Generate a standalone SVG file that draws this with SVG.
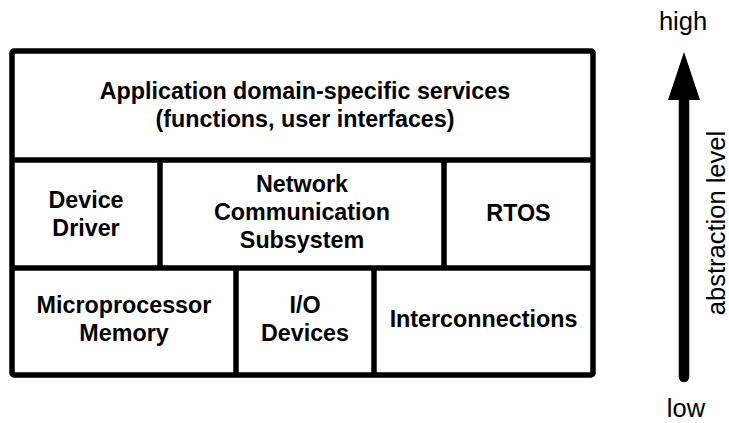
<svg xmlns="http://www.w3.org/2000/svg" width="729" height="423" viewBox="0 0 729 423">
  <style>
    .cell { fill: #ffffff; stroke: #000000; stroke-width: 5.5; }
    .div { stroke: #000000; stroke-width: 5.5; fill: none; }
    .lbl { font-family: "Liberation Sans", Arial, Helvetica, sans-serif; font-weight: bold; font-size: 23.3px; text-anchor: middle; fill: #000000; }
    .axis { font-family: "Liberation Sans", Arial, Helvetica, sans-serif; font-size: 25.5px; text-anchor: middle; fill: #000000; }
  </style>
  <rect width="729" height="423" fill="#ffffff"/>

  <!-- outer frame -->
  <rect id="frame" class="cell" x="12" y="51" width="581" height="324" rx="2"/>

  <!-- layer separators -->
  <g id="dividers">
    <line class="div" x1="12" y1="160" x2="593" y2="160"/>
    <line class="div" x1="12" y1="268" x2="593" y2="268"/>
    <line class="div" x1="160" y1="160" x2="160" y2="268"/>
    <line class="div" x1="444" y1="160" x2="444" y2="268"/>
    <line class="div" x1="236" y1="268" x2="236" y2="375"/>
    <line class="div" x1="374" y1="268" x2="374" y2="375"/>
  </g>

  <g id="app-services">
    <text class="lbl" x="305" y="99">Application domain-specific services</text>
    <text class="lbl" x="305" y="127">(functions, user interfaces)</text>
  </g>

  <g id="device-driver">
    <text class="lbl" x="86" y="208">Device</text>
    <text class="lbl" x="86" y="236">Driver</text>
  </g>

  <g id="network-subsystem">
    <text class="lbl" x="302" y="192">Network</text>
    <text class="lbl" x="302" y="220">Communication</text>
    <text class="lbl" x="302" y="248">Subsystem</text>
  </g>

  <g id="rtos">
    <text class="lbl" x="518.5" y="221">RTOS</text>
  </g>

  <g id="microprocessor-memory">
    <text class="lbl" x="124" y="313">Microprocessor</text>
    <text class="lbl" x="124" y="341">Memory</text>
  </g>

  <g id="io-devices">
    <text class="lbl" x="305" y="313">I/O</text>
    <text class="lbl" x="305" y="341">Devices</text>
  </g>

  <g id="interconnections">
    <text class="lbl" x="483.5" y="327">Interconnections</text>
  </g>

  <!-- abstraction axis -->
  <g id="connectors">
    <line x1="684" y1="98" x2="684" y2="377" stroke="#000000" stroke-width="10.5" stroke-linecap="round"/>
    <polygon points="668,100 700,100 684,52" fill="#000000"/>
  </g>

  <g id="axis-labels">
    <text class="axis" x="683" y="30">high</text>
    <text class="axis" x="686" y="417">low</text>
    <text class="axis" transform="translate(725,223) rotate(-90)" x="0" y="0">abstraction level</text>
  </g>
</svg>
